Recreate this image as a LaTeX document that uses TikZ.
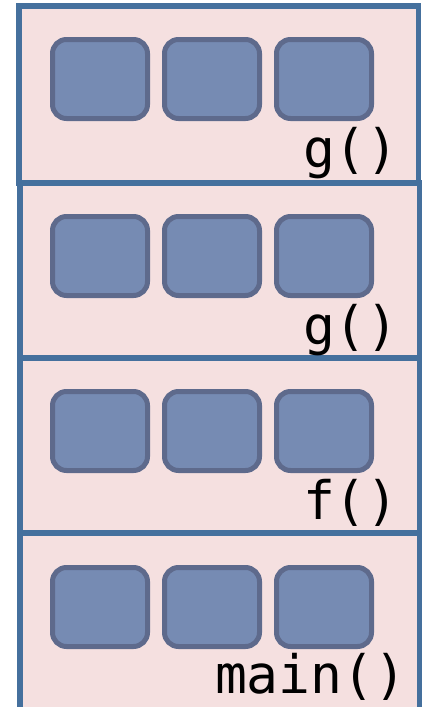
\documentclass[tikz,border=0pt]{standalone}
\usepackage{fontspec}
\setmonofont{DejaVu Sans Mono}
\definecolor{frameline}{HTML}{45709D}
\definecolor{framefill}{HTML}{F5E0E0}
\definecolor{slotfill}{HTML}{768BB3}
\definecolor{slotline}{HTML}{5E6A8C}
\tikzset{
  stackframe/.style={draw=frameline, fill=framefill, line width=5.5pt,
    inner sep=0pt, outer sep=0pt, anchor=north west},
  slot/.style={draw=slotline, fill=slotfill, line width=5pt, rounded corners=14pt,
    minimum width=95pt, minimum height=79pt, inner sep=0pt, outer sep=0pt},
  fname/.style={font=\ttfamily\fontsize{53}{53}\selectfont, inner sep=0pt,
    outer sep=0pt, anchor=base west, text=black}
}
\begin{document}
\begin{tikzpicture}[x=1pt,y=-1pt]
  \useasboundingbox (0,0) rectangle (423,707);
  \clip (0,0) rectangle (423,707);
  % call stack frames, top of the stack first
  \node[stackframe, minimum width=399.5pt, minimum height=177pt] (fr1) at (19,6) {};
  \node[stackframe, minimum width=399.5pt, minimum height=175pt] (fr2) at (20,183) {};
  \node[stackframe, minimum width=399.5pt, minimum height=175pt] (fr3) at (20,358) {};
  \node[stackframe, minimum width=399.5pt, minimum height=190pt] (fr4) at (20,533) {};
  % local variable slots in each frame
  \foreach \f/\y in {1/79, 2/256, 3/431, 4/607} {
    \node[slot] (s\f a) at (100,\y) {};
    \node[slot] (s\f b) at (212,\y) {};
    \node[slot] (s\f c) at (324,\y) {};
  }
  % function names
  \node[fname] (n1) at (303,167) {g()};
  \node[fname] (n2) at (303,344) {g()};
  \node[fname] (n3) at (303,519) {f()};
  \node[fname] (n4) at (215,693) {main()};
\end{tikzpicture}
\end{document}
